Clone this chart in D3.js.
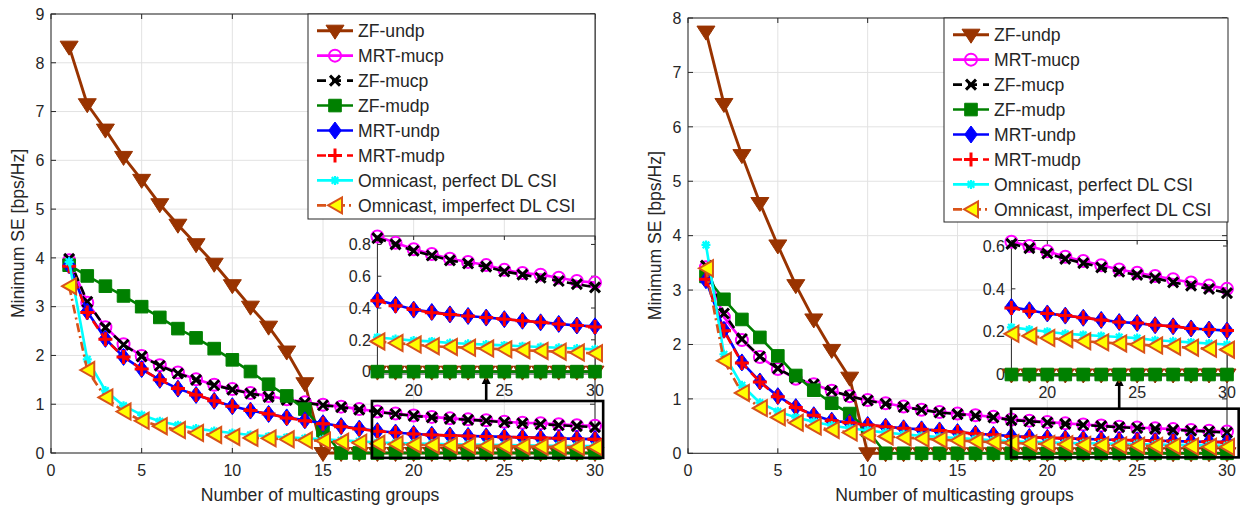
<!DOCTYPE html>
<html><head><meta charset="utf-8">
<script src="https://cdn.jsdelivr.net/npm/d3@7/dist/d3.min.js"></script>
<style>
body{margin:0;background:#fff}
svg{display:block}
text{font-family:"Liberation Sans",Arial,Helvetica,sans-serif;fill:#262626}
</style>
</head><body>
<svg id="c" width="1241" height="506"></svg>
<script>
// ---------- DATA ----------
const groups = [1,2,3,4,5,6,7,8,9,10,11,12,13,14,15,16,17,18,19,20,21,22,23,24,25,26,27,28,29,30];
const seriesNames = ["ZF-undp","MRT-mucp","ZF-mucp","ZF-mudp","MRT-undp","MRT-mudp","Omnicast, perfect DL CSI","Omnicast, imperfect DL CSI"];
const xTicks = [0,5,10,15,20,25,30];
const leftYTicks = [0,1,2,3,4,5,6,7,8,9];
const rightYTicks = [0,1,2,3,4,5,6,7,8];
const insetXTicks = [20,25,30];
const leftInsetYTicks = [0,0.2,0.4,0.6,0.8];
const rightInsetYTicks = [0,0.2,0.4,0.6];
const xLabel = "Number of multicasting groups";
const yLabel = "Minimum SE [bps/Hz]";

// left panel
const L_ZFundp  = [8.33,7.15,6.63,6.07,5.60,5.10,4.68,4.28,3.88,3.44,3.00,2.59,2.08,1.43,0,0,0,0,0,0,0,0,0,0,0,0,0,0,0,0];
const L_MRTmucp = [3.95,3.08,2.58,2.23,1.99,1.80,1.65,1.51,1.40,1.31,1.23,1.17,1.10,1.04,0.99,0.95,0.90,0.85,0.81,0.77,0.74,0.71,0.69,0.67,0.64,0.62,0.61,0.59,0.57,0.56];
const L_ZFmucp  = [3.98,3.10,2.57,2.22,1.98,1.79,1.63,1.50,1.39,1.30,1.22,1.15,1.09,1.03,0.98,0.94,0.89,0.84,0.80,0.76,0.73,0.70,0.68,0.66,0.63,0.61,0.59,0.57,0.55,0.53];
const L_ZFmudp  = [3.85,3.63,3.42,3.22,3.00,2.78,2.55,2.36,2.14,1.91,1.67,1.41,1.17,0.90,0.46,0,0,0,0,0,0,0,0,0,0,0,0,0,0,0];
const L_MRTundp = [3.85,2.90,2.34,1.97,1.72,1.50,1.32,1.19,1.07,0.96,0.87,0.80,0.73,0.67,0.61,0.55,0.50,0.45,0.42,0.39,0.375,0.36,0.35,0.34,0.33,0.32,0.31,0.30,0.29,0.285];
const L_MRTmudp = [3.83,2.88,2.33,1.97,1.72,1.50,1.32,1.19,1.07,0.96,0.87,0.80,0.72,0.66,0.60,0.54,0.49,0.445,0.415,0.39,0.37,0.36,0.35,0.34,0.33,0.32,0.31,0.30,0.29,0.28];
const L_OmniPerf = [3.92,1.92,1.28,0.97,0.78,0.65,0.57,0.50,0.45,0.41,0.37,0.34,0.32,0.30,0.28,0.26,0.24,0.215,0.205,0.195,0.19,0.18,0.175,0.17,0.165,0.16,0.155,0.15,0.145,0.14];
const L_OmniImp  = [3.42,1.70,1.14,0.85,0.66,0.55,0.47,0.41,0.37,0.33,0.31,0.30,0.28,0.26,0.25,0.23,0.21,0.19,0.18,0.17,0.16,0.155,0.15,0.145,0.14,0.135,0.13,0.125,0.12,0.115];

// right panel
const R_ZFundp  = [7.75,6.42,5.48,4.60,3.82,3.09,2.46,1.90,1.39,0,0,0,0,0,0,0,0,0,0,0,0,0,0,0,0,0,0,0,0,0];
const R_MRTmucp = [3.42,2.50,2.08,1.77,1.55,1.37,1.27,1.15,1.05,0.98,0.92,0.86,0.80,0.76,0.73,0.70,0.67,0.62,0.60,0.575,0.55,0.53,0.51,0.49,0.475,0.46,0.445,0.43,0.415,0.40];
const R_ZFmucp  = [3.45,2.57,2.10,1.78,1.56,1.38,1.27,1.15,1.05,0.97,0.91,0.85,0.80,0.75,0.72,0.69,0.66,0.61,0.59,0.565,0.54,0.52,0.50,0.48,0.465,0.45,0.43,0.415,0.40,0.38];
const R_ZFmudp  = [3.25,2.83,2.46,2.13,1.79,1.43,1.16,0.92,0.73,0.42,0,0,0,0,0,0,0,0,0,0,0,0,0,0,0,0,0,0,0,0];
const R_MRTundp = [3.18,2.27,1.67,1.32,1.05,0.85,0.70,0.60,0.56,0.52,0.49,0.46,0.44,0.42,0.39,0.36,0.34,0.315,0.30,0.285,0.275,0.265,0.255,0.245,0.24,0.23,0.225,0.215,0.21,0.205];
const R_MRTmudp = [3.20,2.25,1.66,1.31,1.04,0.84,0.70,0.60,0.56,0.52,0.49,0.46,0.44,0.42,0.39,0.36,0.34,0.31,0.295,0.285,0.275,0.265,0.255,0.245,0.24,0.23,0.225,0.215,0.21,0.205];
const R_OmniPerf = [3.83,1.82,1.25,0.93,0.77,0.66,0.58,0.51,0.46,0.42,0.38,0.35,0.32,0.30,0.28,0.26,0.24,0.22,0.21,0.20,0.19,0.185,0.18,0.175,0.17,0.16,0.155,0.15,0.145,0.14];
const R_OmniImp  = [3.40,1.70,1.11,0.83,0.66,0.56,0.49,0.43,0.38,0.34,0.31,0.29,0.27,0.25,0.235,0.22,0.205,0.19,0.18,0.17,0.165,0.155,0.15,0.145,0.14,0.135,0.13,0.125,0.12,0.116];

const leftSeries  = [L_ZFundp,L_MRTmucp,L_ZFmucp,L_ZFmudp,L_MRTundp,L_MRTmudp,L_OmniPerf,L_OmniImp];
const rightSeries = [R_ZFundp,R_MRTmucp,R_ZFmucp,R_ZFmudp,R_MRTundp,R_MRTmudp,R_OmniPerf,R_OmniImp];
const zoomFrom = 18;
const arrowAt = 24;

// ---------- STYLE ----------
const AX = "#262626", GRID = "#e2e2e2";
const styles = [
  {color:"#993300", dash:null,        m:"v", fill:"#993300", w:2.9},
  {color:"#ff00ff", dash:null,        m:"o", fill:"none",    w:2.6},
  {color:"#000000", dash:"9,6",       m:"x", fill:"none",    w:2.6},
  {color:"#008000", dash:null,        m:"s", fill:"#008000", w:2.6},
  {color:"#0000ff", dash:null,        m:"d", fill:"#0000ff", w:2.6},
  {color:"#ff0000", dash:"9,6",       m:"+", fill:"none",    w:2.6},
  {color:"#00ffff", dash:null,        m:"*", fill:"none",    w:2.6},
  {color:"#D95319", dash:"9,4,2,4",   m:"<", fill:"#ffff00", w:2.6}
];
const markerPaths = {
  v: "M-9,-5.5L9,-5.5L0,8.5Z",
  o: "M6,0A6,6 0 1,1 -6,0A6,6 0 1,1 6,0Z",
  x: "M-5,-5L5,5M-5,5L5,-5",
  s: "M-6.3,-6.3H6.3V6.3H-6.3Z",
  d: "M0,-8.5L6.3,0L0,8.5L-6.3,0Z",
  "+": "M-7,0H7M0,-7V7",
  "*": "M-4.5,0H4.5M0,-4.5V4.5M-3.3,-3.3L3.3,3.3M-3.3,3.3L3.3,-3.3",
  "<": "M-7,0L7,-8L7,8Z"
};
const markerStroke = {v:1,o:2,x:3,s:1,d:1,"+":3,"*":2.2,"<":2};

const svg = d3.select("#c");

function drawMarker(g, st, cx, cy) {
  g.append("path").attr("d", markerPaths[st.m])
    .attr("transform", `translate(${cx},${cy})`)
    .attr("fill", st.fill).attr("stroke", st.color)
    .attr("stroke-width", markerStroke[st.m]).attr("stroke-linejoin","miter");
}

function drawSeries(g, x, y, series, filterFn) {
  series.forEach((vals, i) => {
    const st = styles[i];
    const pts = groups.map((gx, k) => [gx, vals[k]]).filter(p => filterFn(p[0]));
    const line = d3.line().x(p => x(p[0])).y(p => y(p[1]));
    g.append("path").attr("d", line(pts)).attr("fill","none")
      .attr("stroke", st.color).attr("stroke-width", st.w)
      .attr("stroke-dasharray", st.dash).attr("stroke-linejoin","round");
    pts.forEach(p => drawMarker(g, st, x(p[0]), y(p[1])));
  });
}

function boxAxes(g, x, y, xt, yt, opts) {
  const [x0, x1] = x.range(), [y0, y1] = y.range();
  if (opts.grid) {
    xt.forEach(t => g.append("line").attr("x1", x(t)).attr("x2", x(t)).attr("y1", y0).attr("y2", y1).attr("stroke", GRID));
    yt.forEach(t => g.append("line").attr("y1", y(t)).attr("y2", y(t)).attr("x1", x0).attr("x2", x1).attr("stroke", GRID));
  }
  const tl = opts.tickLen;
  xt.forEach(t => {
    g.append("line").attr("x1", x(t)).attr("x2", x(t)).attr("y1", y0).attr("y2", y0 - tl).attr("stroke", AX);
    g.append("line").attr("x1", x(t)).attr("x2", x(t)).attr("y1", y1).attr("y2", y1 + tl).attr("stroke", AX);
    g.append("text").attr("x", x(t)).attr("y", opts.xLabY).attr("text-anchor","middle")
      .attr("font-size", opts.fs).text(String(t));
  });
  yt.forEach(t => {
    g.append("line").attr("y1", y(t)).attr("y2", y(t)).attr("x1", x0).attr("x2", x0 + tl).attr("stroke", AX);
    g.append("line").attr("y1", y(t)).attr("y2", y(t)).attr("x1", x1).attr("x2", x1 - tl).attr("stroke", AX);
    g.append("text").attr("x", x0 - 6.5).attr("y", y(t)).attr("dy","0.36em").attr("text-anchor","end")
      .attr("font-size", opts.fs).text(String(t));
  });
  g.append("rect").attr("x", x0).attr("y", y1).attr("width", x1 - x0).attr("height", y0 - y1)
    .attr("fill","none").attr("stroke", AX).attr("stroke-width", 1);
}

function panel(cfg) {
  const g = svg.append("g");
  const x = d3.scaleLinear().domain([0,30]).range(cfg.xr);
  const y = d3.scaleLinear().domain([0,cfg.ymax]).range(cfg.yr);
  boxAxes(g, x, y, xTicks, cfg.yTicks, {grid:true, tickLen:5, xLabY: cfg.yr[0] + 22.5, fs:16});
  g.append("text").attr("x", (cfg.xr[0]+cfg.xr[1])/2 - 3).attr("y", cfg.yr[0] + 48)
    .attr("text-anchor","middle").attr("font-size", 17.6).text(xLabel);
  g.append("text").attr("transform", `translate(${cfg.yLabX},${(cfg.yr[0]+cfg.yr[1])/2}) rotate(-90)`)
    .attr("text-anchor","middle").attr("font-size", 17.6).text(yLabel);

  drawSeries(g, x, y, cfg.series, () => true);

  const [rx0, rx1, ry0, ry1] = cfg.rect;
  g.append("rect").attr("x", x(rx0)).attr("y", y(ry1)).attr("width", x(rx1) - x(rx0)).attr("height", y(ry0) - y(ry1))
    .attr("fill","none").attr("stroke","#000").attr("stroke-width", 2.6);

  const ix = d3.scaleLinear().domain([zoomFrom,30]).range([x(zoomFrom), cfg.xr[1]]);
  const iy = d3.scaleLinear().domain(cfg.iyDom).range(cfg.iyRange);
  const ig = svg.append("g");
  ig.append("rect").attr("x", ix.range()[0]).attr("y", cfg.iyRange[1])
    .attr("width", ix.range()[1]-ix.range()[0]).attr("height", cfg.iyRange[0]-cfg.iyRange[1]).attr("fill","#fff");
  boxAxes(ig, ix, iy, insetXTicks, cfg.iTicks, {grid:false, tickLen:4, xLabY: cfg.iyRange[0] + 21.5, fs:16});
  drawSeries(ig, ix, iy, cfg.series, gx => gx >= zoomFrom);

  const ax = x(arrowAt), aTop = cfg.iyRange[0] + 1, aBot = y(ry1);
  g.append("line").attr("x1", ax).attr("x2", ax).attr("y1", aBot).attr("y2", aTop + 7)
    .attr("stroke","#000").attr("stroke-width", 2.6);
  g.append("path").attr("d", `M${ax},${aTop}L${ax-4.5},${aTop+9}L${ax+4.5},${aTop+9}Z`).attr("fill","#000");
  ig.raise();

  const lg = svg.append("g");
  const [bx, by, bw, bh] = cfg.legend;
  lg.append("rect").attr("x", bx).attr("y", by).attr("width", bw).attr("height", bh)
    .attr("fill","#fff").attr("stroke", AX).attr("stroke-width", 1);
  seriesNames.forEach((name, i) => {
    const st = styles[i];
    const ry = by + 16.7 + 24.95 * i;
    lg.append("line").attr("x1", bx + 9).attr("x2", bx + 45).attr("y1", ry).attr("y2", ry)
      .attr("stroke", st.color).attr("stroke-width", st.w).attr("stroke-dasharray", st.dash);
    drawMarker(lg, st, bx + 27, ry);
    lg.append("text").attr("x", bx + 50).attr("y", ry).attr("dy","0.36em")
      .attr("font-size", 17.6).text(name);
  });
}

panel({
  xr:[51,595], yr:[453,14], ymax:9, yTicks:leftYTicks, yLabX:24,
  series:leftSeries,
  rect:[17.7, 30.45, -0.1, 1.066],
  iyDom:[-0.015, 0.853], iyRange:[374, 236], iTicks:leftInsetYTicks,
  legend:[308, 14, 287, 205]
});
panel({
  xr:[688,1227], yr:[453.3,18], ymax:8, yTicks:rightYTicks, yLabX:661,
  series:rightSeries,
  rect:[17.98, 30.65, -0.075, 0.82],
  iyDom:[-0.007, 0.6257], iyRange:[376, 240.5], iTicks:rightInsetYTicks,
  legend:[944, 18, 284, 204]
});
</script>
</body></html>
